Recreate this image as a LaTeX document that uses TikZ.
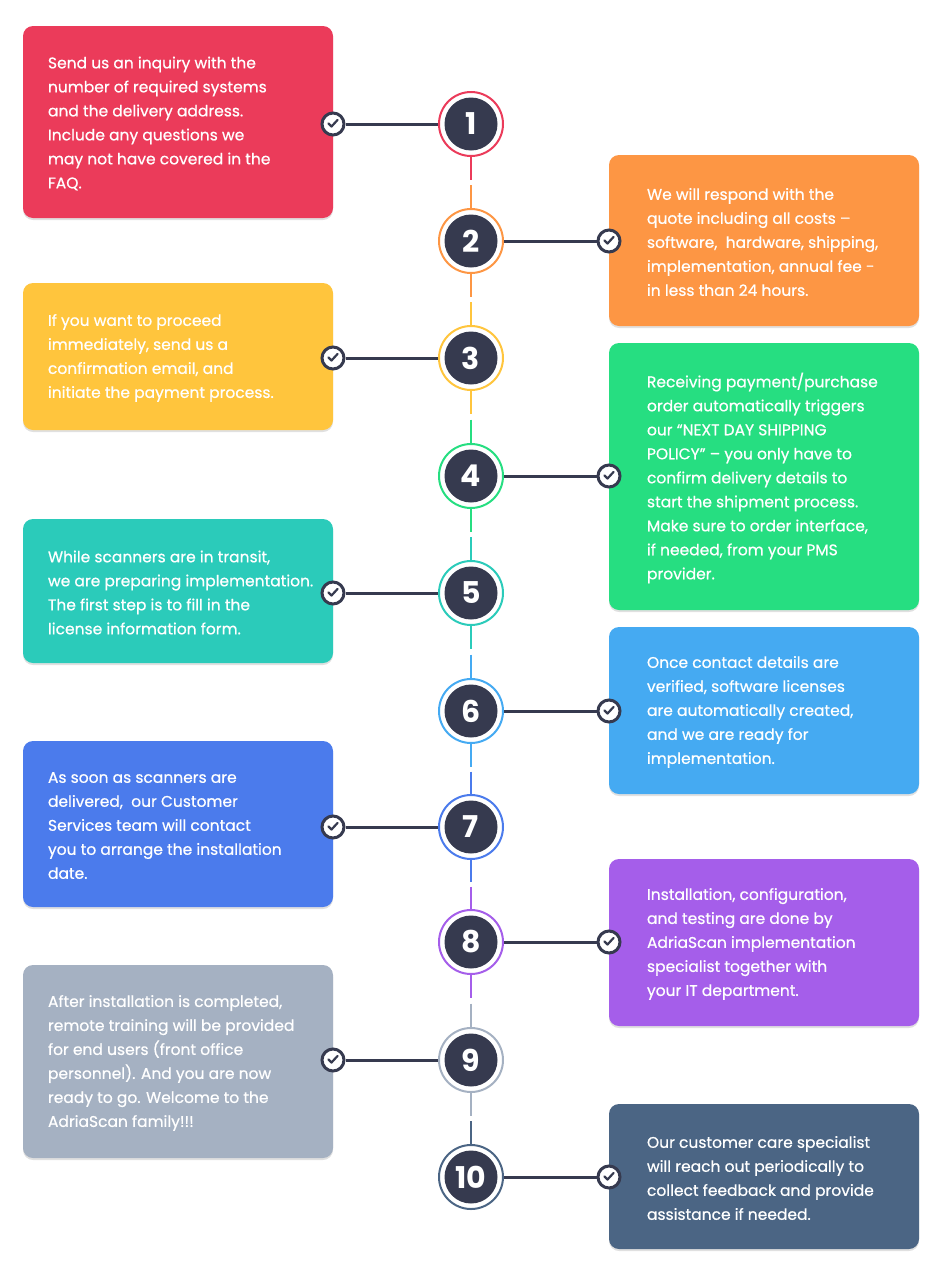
\documentclass[tikz,border=0pt]{standalone}
\usepackage{fontspec}
\setmainfont{Poppins}
\newfontfamily\stepfont{Poppins}[FakeBold=0.6]
\usetikzlibrary{positioning, calc, shadows}

\definecolor{stepRed}{HTML}{EB3B5A}
\definecolor{stepOrange}{HTML}{FD9644}
\definecolor{stepYellow}{HTML}{FFC53D}
\definecolor{stepGreen}{HTML}{26DE81}
\definecolor{stepTeal}{HTML}{2BCBBA}
\definecolor{stepSky}{HTML}{45AAF2}
\definecolor{stepBlue}{HTML}{4B7BEC}
\definecolor{stepPurple}{HTML}{A55EEA}
\definecolor{stepGray}{HTML}{A5B1C2}
\definecolor{stepSlate}{HTML}{4B6584}
\definecolor{darkdot}{HTML}{363A4F}

\begin{document}
\begin{tikzpicture}[
  x=1pt, y=-1pt,
  stepbox/.style={
    rectangle, rounded corners=10pt, draw=none,
    minimum width=310pt, inner sep=0pt,
    drop shadow={shadow xshift=0pt, shadow yshift=-2pt, opacity=0.12, fill=black}
  },
  steptext/.style={
    anchor=west, align=left, text=white, inner sep=0pt,
    font=\stepfont\fontsize{15.5}{24}\selectfont
  },
  ring/.style={
    circle, draw=#1, line width=2pt, fill=white,
    minimum size=64pt, inner sep=0pt
  },
  numdot/.style={
    circle, fill=darkdot, text=white, minimum size=53pt, inner sep=0pt,
    font=\fontsize{30}{30}\selectfont\bfseries
  },
  checkmark/.style={
    circle, draw=darkdot, line width=3pt, fill=white,
    minimum size=22pt, inner sep=0pt,
    path picture={
      \draw[darkdot, line width=2.2pt, line cap=round, line join=round]
        ([xshift=-4.5pt, yshift=0.5pt]path picture bounding box.center)
        -- ++(3pt,-3pt) -- ++(6pt,6.5pt);
    }
  },
  hline/.style={draw=darkdot, line width=3pt},
  vline/.style={line width=2pt}
]
\useasboundingbox (0,0) rectangle (943,1274);

% ================= Boxes =================
\node[stepbox, fill=stepRed, minimum height=192pt] (box1) at (178,122) {};
\node[stepbox, fill=stepOrange, minimum height=171pt] (box2) at (764,240.5) {};
\node[stepbox, fill=stepYellow, minimum height=147pt] (box3) at (178,356.5) {};
\node[stepbox, fill=stepGreen, minimum height=267pt] (box4) at (764,476.5) {};
\node[stepbox, fill=stepTeal, minimum height=144pt] (box5) at (178,591) {};
\node[stepbox, fill=stepSky, minimum height=167pt] (box6) at (764,710.5) {};
\node[stepbox, fill=stepBlue, minimum height=166pt] (box7) at (178,824) {};
\node[stepbox, fill=stepPurple, minimum height=167pt] (box8) at (764,942.5) {};
\node[stepbox, fill=stepGray, minimum height=193pt] (box9) at (178,1061.5) {};
\node[stepbox, fill=stepSlate, minimum height=145pt] (box10) at (764,1176.5) {};

% ================= Texts =================
\node[steptext] (txt1) at ([xshift=25pt, yshift=-1.5pt]box1.west) {Send us an inquiry with the\\number of required systems\\and the delivery address.\\Include any questions we\\may not have covered in the\\FAQ.};
\node[steptext] (txt2) at ([xshift=38pt, yshift=-1.5pt]box2.west) {We will respond with the\\quote including all costs –\\software,\ \ hardware, shipping,\\implementation, annual fee -\\in less than 24 hours.};
\node[steptext] (txt3) at ([xshift=25pt, yshift=-1.5pt]box3.west) {If you want to proceed\\immediately, send us a\\confirmation email, and\\initiate the payment process.};
\node[steptext] (txt4) at ([xshift=38pt, yshift=-1.5pt]box4.west) {Receiving payment/purchase\\order automatically triggers\\our “NEXT DAY SHIPPING\\POLICY” – you only have to\\confirm delivery details to\\start the shipment process.\\Make sure to order interface,\\if needed, from your PMS\\provider.};
\node[steptext] (txt5) at ([xshift=25pt, yshift=-1.5pt]box5.west) {While scanners are in transit,\\we are preparing implementation.\\The first step is to fill in the\\license information form.};
\node[steptext] (txt6) at ([xshift=38pt, yshift=-1.5pt]box6.west) {Once contact details are\\verified, software licenses\\are automatically created,\\and we are ready for\\implementation.};
\node[steptext] (txt7) at ([xshift=25pt, yshift=-1.5pt]box7.west) {As soon as scanners are\\delivered,\ \ our Customer\\Services team will contact\\you to arrange the installation\\date.};
\node[steptext] (txt8) at ([xshift=38pt, yshift=-1.5pt]box8.west) {Installation, configuration,\\and testing are done by\\AdriaScan implementation\\specialist together with\\your IT department.};
\node[steptext] (txt9) at ([xshift=25pt, yshift=-1.5pt]box9.west) {After installation is completed,\\remote training will be provided\\for end users (front office\\personnel). And you are now\\ready to go. Welcome to the\\AdriaScan family!!!};
\node[steptext] (txt10) at ([xshift=38pt, yshift=-1.5pt]box10.west) {Our customer care specialist\\will reach out periodically to\\collect feedback and provide\\assistance if needed.};

% ================= Rings and numbers =================
\node[ring=stepRed] (r1) at (471,124) {};
\node[ring=stepOrange] (r2) at (471,241) {};
\node[ring=stepYellow] (r3) at (471,358) {};
\node[ring=stepGreen] (r4) at (471,476) {};
\node[ring=stepTeal] (r5) at (471,593) {};
\node[ring=stepSky] (r6) at (471,711) {};
\node[ring=stepBlue] (r7) at (471,827) {};
\node[ring=stepPurple] (r8) at (471,942) {};
\node[ring=stepGray] (r9) at (471,1060) {};
\node[ring=stepSlate] (r10) at (471,1177) {};

\node[numdot] (n1) at (r1) {1};
\node[numdot] (n2) at (r2) {2};
\node[numdot] (n3) at (r3) {3};
\node[numdot] (n4) at (r4) {4};
\node[numdot] (n5) at (r5) {5};
\node[numdot] (n6) at (r6) {6};
\node[numdot] (n7) at (r7) {7};
\node[numdot] (n8) at (r8) {8};
\node[numdot] (n9) at (r9) {9};
\node[numdot] (n10) at (r10) {10};

% ================= Check marks =================
\node[checkmark] (c1) at (333,124) {};
\node[checkmark] (c2) at (609,241) {};
\node[checkmark] (c3) at (333,358) {};
\node[checkmark] (c4) at (609,476) {};
\node[checkmark] (c5) at (333,593) {};
\node[checkmark] (c6) at (609,711) {};
\node[checkmark] (c7) at (333,827) {};
\node[checkmark] (c8) at (609,942) {};
\node[checkmark] (c9) at (333,1060) {};
\node[checkmark] (c10) at (609,1177) {};

% ================= Connections: rings to check marks =================
\draw[hline] (r1) -- (c1);
\draw[hline] (r2) -- (c2);
\draw[hline] (r3) -- (c3);
\draw[hline] (r4) -- (c4);
\draw[hline] (r5) -- (c5);
\draw[hline] (r6) -- (c6);
\draw[hline] (r7) -- (c7);
\draw[hline] (r8) -- (c8);
\draw[hline] (r9) -- (c9);
\draw[hline] (r10) -- (c10);

% ================= Connections: timeline =================
\draw[vline, stepRed] (r1.south) -- ($(r1.south)!0.45!(r2.north)$);
\draw[vline, stepOrange] ($(r1.south)!0.55!(r2.north)$) -- (r2.north);
\draw[vline, stepOrange] (r2.south) -- ($(r2.south)!0.45!(r3.north)$);
\draw[vline, stepYellow] ($(r2.south)!0.55!(r3.north)$) -- (r3.north);
\draw[vline, stepYellow] (r3.south) -- ($(r3.south)!0.45!(r4.north)$);
\draw[vline, stepGreen] ($(r3.south)!0.55!(r4.north)$) -- (r4.north);
\draw[vline, stepGreen] (r4.south) -- ($(r4.south)!0.45!(r5.north)$);
\draw[vline, stepTeal] ($(r4.south)!0.55!(r5.north)$) -- (r5.north);
\draw[vline, stepTeal] (r5.south) -- ($(r5.south)!0.45!(r6.north)$);
\draw[vline, stepSky] ($(r5.south)!0.55!(r6.north)$) -- (r6.north);
\draw[vline, stepSky] (r6.south) -- ($(r6.south)!0.45!(r7.north)$);
\draw[vline, stepBlue] ($(r6.south)!0.55!(r7.north)$) -- (r7.north);
\draw[vline, stepBlue] (r7.south) -- ($(r7.south)!0.45!(r8.north)$);
\draw[vline, stepPurple] ($(r7.south)!0.55!(r8.north)$) -- (r8.north);
\draw[vline, stepPurple] (r8.south) -- ($(r8.south)!0.45!(r9.north)$);
\draw[vline, stepGray] ($(r8.south)!0.55!(r9.north)$) -- (r9.north);
\draw[vline, stepGray] (r9.south) -- ($(r9.south)!0.45!(r10.north)$);
\draw[vline, stepSlate] ($(r9.south)!0.55!(r10.north)$) -- (r10.north);

\end{tikzpicture}
\end{document}
